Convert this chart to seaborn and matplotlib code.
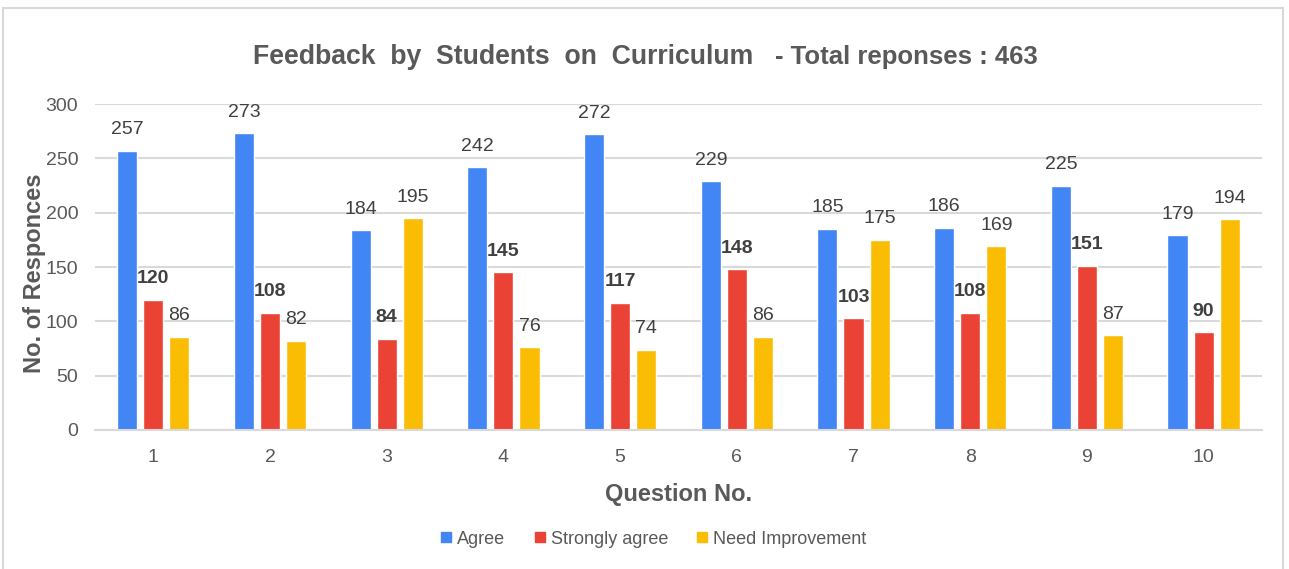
import seaborn as sns
import matplotlib.pyplot as plt
import pandas as pd
from matplotlib.patches import Rectangle
from matplotlib.lines import Line2D

# Data
questions = ['1', '2', '3', '4', '5', '6', '7', '8', '9', '10']
agree = [257, 273, 184, 242, 272, 229, 185, 186, 225, 179]
strongly_agree = [120, 108, 84, 145, 117, 148, 103, 108, 151, 90]
need_improvement = [86, 82, 195, 76, 74, 86, 175, 169, 87, 194]
series_names = ['Agree', 'Strongly agree', 'Need Improvement']
colors = ['#4285F4', '#EA4335', '#FBBC04']

df = pd.DataFrame({
    'Question': questions * 3,
    'Response': [series_names[0]] * 10 + [series_names[1]] * 10 + [series_names[2]] * 10,
    'Count': agree + strongly_agree + need_improvement,
})

sns.set_style('white')
plt.rcParams['font.family'] = ['Liberation Sans', 'DejaVu Sans']
text_color = '#595959'

fig = plt.figure(figsize=(12.89, 5.69), dpi=100)
ax = fig.add_axes([0.0737, 0.2443, 0.9053, 0.5729])

sns.barplot(data=df, x='Question', y='Count', hue='Response', palette=colors,
            width=0.67, gap=0.23, ax=ax, legend=False, saturation=1)

# Value labels, Strongly agree in bold
for i, cont in enumerate(ax.containers):
    ax.bar_label(cont, padding=9, fontsize=14, color='#404040',
                 fontweight='bold' if i == 1 else 'normal')

ax.set_ylim(0, 300)
ax.set_xlim(-0.5, 9.5)
ax.set_yticks(range(0, 301, 50))
ax.yaxis.grid(True, color='#d9d9d9', linewidth=1.5)
ax.set_axisbelow(True)
for s in ['top', 'right', 'left']:
    ax.spines[s].set_visible(False)
ax.spines['bottom'].set_color('#d9d9d9')
ax.spines['bottom'].set_linewidth(1.5)
ax.tick_params(axis='both', length=0, labelsize=14, labelcolor=text_color)
ax.tick_params(axis='x', pad=14)
ax.tick_params(axis='y', pad=12)

ax.set_xlabel('Question No.', fontsize=17, fontweight='bold', color=text_color, labelpad=12)
ax.set_ylabel('No. of Responces', fontsize=17, fontweight='bold', color=text_color)
ax.yaxis.set_label_coords(-0.042, 0.48)

# Title in two parts
fig.text(253 / 1289, 1 - 57 / 569, 'Feedback  by  Students  on  Curriculum', fontsize=19.2,
         fontweight='bold', color=text_color, ha='left', va='center')
fig.text(775 / 1289, 1 - 57 / 569, '- Total reponses : 463', fontsize=18.5,
         fontweight='bold', color=text_color, ha='left', va='center')

# Legend
handles = [Line2D([], [], marker='s', linestyle='', markersize=7, color=c) for c in colors]
fig.legend(handles, series_names, loc='center', bbox_to_anchor=(0.505, 1 - 539 / 569),
           ncol=3, frameon=False, fontsize=13, handletextpad=0.0, columnspacing=1.3,
           handlelength=1.2, labelcolor=text_color)

# Outer frame
fig.patches.append(Rectangle((3 / 1289, -0.05), 1280 / 1289, 1.05 - 8 / 569,
                             transform=fig.transFigure, fill=False,
                             edgecolor='#d9d9d9', linewidth=1.5))

plt.savefig('out.png', dpi=100)
plt.close()
